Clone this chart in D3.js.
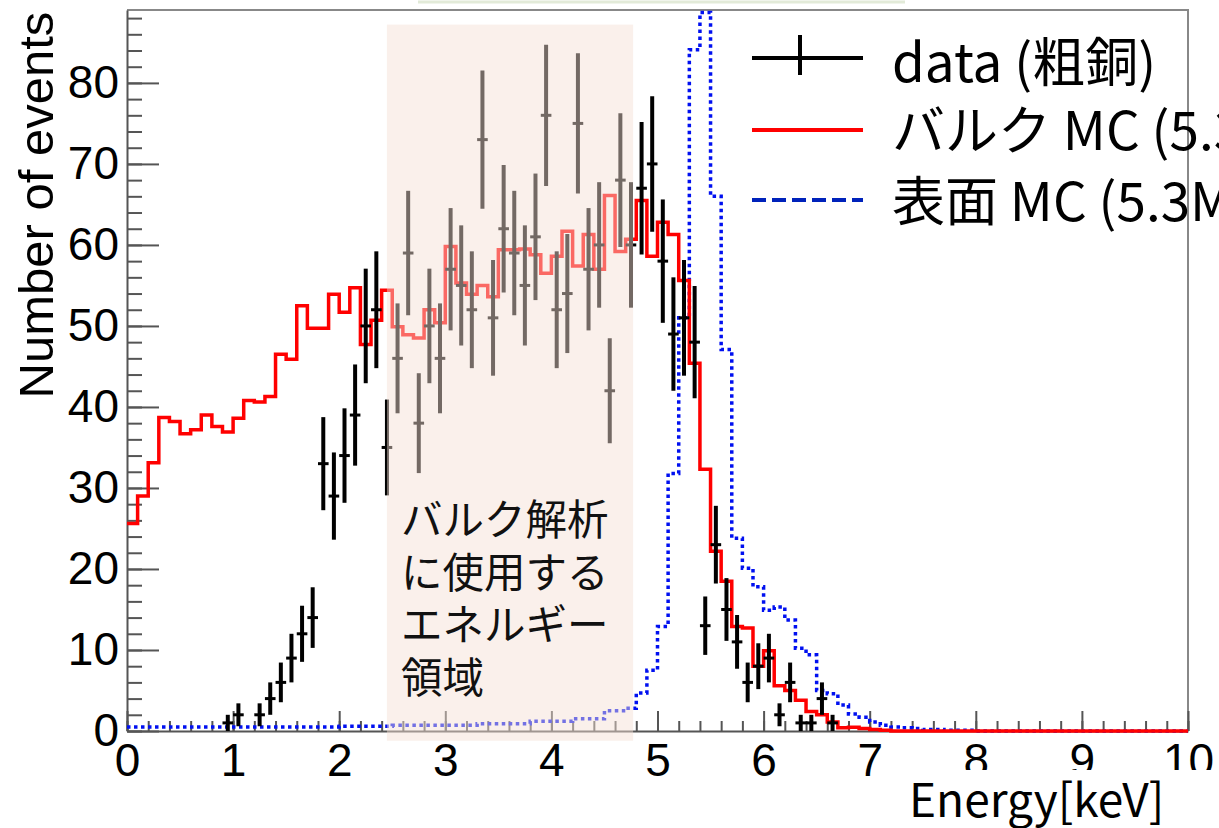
<!DOCTYPE html>
<html>
<head>
<meta charset="utf-8">
<script src="https://cdn.jsdelivr.net/npm/d3@7"></script>
<style>
  html, body { margin: 0; padding: 0; background: #fff; }
  svg { display: block; }
  .axis path, .axis line { stroke: #555; stroke-width: 2; }
  .axis text { font-family: "Liberation Sans", Arial, sans-serif; font-size: 46px; fill: #000; }
</style>
</head>
<body>
<script>
// bin contents, 0.1 keV bins from 0 to 10 keV
var bulkMC = [
    25.6, 29.0, 33.1, 38.7, 38.2, 36.7, 37.2, 39.0, 37.6, 36.9,
    38.6, 40.8, 40.6, 41.3, 46.5, 45.9, 52.5, 49.7, 49.7, 53.9,
    51.7, 54.7, 47.7, 50.7, 54.4, 49.9, 48.9, 48.5, 52.0, 50.4,
    59.8, 55.3, 53.9, 55.0, 53.6, 59.4, 59.4, 59.5, 58.8, 56.5,
    58.6, 61.7, 57.4, 61.3, 57.0, 66.1, 59.2, 60.7, 65.5, 58.6,
    62.8, 61.3, 55.6, 45.4, 32.3, 22.2, 18.5, 12.9, 12.7, 8.0,
    9.9, 5.6, 5.0, 3.8, 2.4, 2.0, 1.1, 0.4, 0.45, 0.3,
    0.2, 0.1, 0, 0, 0, 0, 0, 0, 0, 0,
    0, 0, 0, 0, 0, 0, 0, 0, 0, 0,
    0, 0, 0, 0, 0, 0, 0, 0, 0, 0
];
var surfaceMC = [
    0.5, 0.5, 0.5, 0.5, 0.5, 0.5, 0.5, 0.5, 0.5, 0.5,
    0.5, 0.5, 0.5, 0.5, 0.5, 0.5, 0.5, 0.5, 0.5, 0.5,
    0.6, 0.6, 0.6, 0.6, 0.6, 0.7, 0.7, 0.7, 0.7, 0.7,
    0.7, 0.7, 0.7, 0.9, 0.9, 0.9, 0.9, 0.9, 1.2, 1.2,
    1.2, 1.2, 1.5, 1.5, 1.5, 2.5, 2.5, 2.8, 4.7, 7.5,
    12.9, 31.8, 51.0, 84.1, 88.7, 66.0, 47.1, 23.8, 20.1, 17.8,
    14.9, 15.3, 13.7, 10.2, 9.4, 5.0, 4.6, 3.2, 2.1, 1.7,
    1.1, 0.7, 0.5, 0.4, 0.3, 0.2, 0.2, 0.1, 0.1, 0.1,
    0, 0, 0, 0, 0, 0, 0, 0, 0, 0,
    0, 0, 0, 0, 0, 0, 0, 0, 0, 0
];

// measured copper: bin centres (keV) and counts
var dataEnergy = [
    0.95, 1.05, 1.25, 1.35, 1.45, 1.55, 1.65, 1.75, 1.85, 1.95,
    2.05, 2.15, 2.25, 2.35, 2.45, 2.55, 2.65, 2.75, 2.85, 2.95,
    3.05, 3.15, 3.25, 3.35, 3.45, 3.55, 3.65, 3.75, 3.85, 3.95,
    4.05, 4.15, 4.25, 4.35, 4.45, 4.55, 4.65, 4.75, 4.85, 4.95,
    5.05, 5.15, 5.25, 5.35, 5.45, 5.55, 5.65, 5.75, 5.85, 5.95,
    6.05, 6.15, 6.25, 6.35, 6.45, 6.55, 6.65
];
var dataCounts = [
    1, 2, 2, 4, 6, 9, 12, 14, 33, 29,
    34, 39, 50, 52, 35, 46, 59, 38, 50, 46,
    57, 55, 52, 73, 51, 62, 59, 55, 61, 76,
    52, 54, 75, 57, 60, 42, 68, 60, 67, 70,
    58, 49, 51, 48, 13, 23, 15, 11, 6, 8,
    9, 2, 6, 1, 1, 4, 1
];

var binWidth = 0.1;
var bulkRegion = [2.45, 4.77];
var regionLines = ["バルク解析", "に使用する", "エネルギー", "領域"];
var legendLabels = ["data (粗銅)", "バルク MC (5.3MeV)", "表面 MC (5.3MeV)"];
var yLabel = "Number of events";
var xLabel = "Energy[keV]";

(function() {
    var width = 1219;
    var height = 828;

    var svg = d3.select('body').append('svg')
        .attr('width', width)
        .attr('height', height);

    var x = d3.scaleLinear().domain([0, 10]).range([127, 1188]);
    var y = d3.scaleLinear().domain([0, 89]).range([731, 10]);

    // faint slide artefact at the very top
    svg.append('line')
        .attr('x1', 418).attr('x2', 905)
        .attr('y1', 2).attr('y2', 2)
        .attr('stroke', '#e2ead8')
        .attr('stroke-width', 3);

    // frame (top and right)
    svg.append('path')
        .attr('d', 'M' + x(0) + ',' + y(89) + 'H' + x(10) + 'V' + y(0))
        .attr('fill', 'none')
        .attr('stroke', '#888')
        .attr('stroke-width', 2);

    // minor ticks
    svg.append('g')
        .attr('class', 'axis')
        .attr('transform', 'translate(0,' + y(0) + ')')
        .call(d3.axisBottom(x).tickValues(d3.range(0, 10.01, 0.2)).tickSize(-10).tickSizeOuter(0).tickFormat(''))
        .select('.domain').remove();
    svg.append('g')
        .attr('class', 'axis')
        .attr('transform', 'translate(' + x(0) + ',0)')
        .call(d3.axisLeft(y).tickValues(d3.range(0, 89, 2)).tickSize(-15).tickSizeOuter(0).tickFormat(''))
        .select('.domain').remove();

    // major ticks + labels
    svg.append('g')
        .attr('class', 'axis')
        .attr('transform', 'translate(0,' + y(0) + ')')
        .call(d3.axisBottom(x).ticks(10).tickSize(-20).tickSizeOuter(0).tickPadding(12));
    svg.append('g')
        .attr('class', 'axis')
        .attr('transform', 'translate(' + x(0) + ',0)')
        .call(d3.axisLeft(y).tickValues(d3.range(0, 81, 10)).tickSize(-32).tickSizeOuter(0).tickPadding(8));

    // histograms drawn as steps
    function stepPoints(values) {
        var pts = values.map(function(v, i) { return [i * binWidth, v]; });
        pts.push([values.length * binWidth, values[values.length - 1]]);
        return pts;
    }
    var step = d3.line()
        .x(function(d) { return x(d[0]); })
        .y(function(d) { return y(d[1]); })
        .curve(d3.curveStepAfter);

    svg.append('path')
        .attr('d', step(stepPoints(surfaceMC)))
        .attr('fill', 'none')
        .attr('stroke', '#0010f0')
        .attr('stroke-width', 3.5)
        .attr('stroke-dasharray', '3.5,3.5');

    svg.append('path')
        .attr('d', step(stepPoints(bulkMC)))
        .attr('fill', 'none')
        .attr('stroke', '#ff0000')
        .attr('stroke-width', 3.5);

    // data with sqrt(N) errors
    var pts = svg.append('g').selectAll('g')
        .data(dataEnergy.map(function(e, i) { return {e: e, n: dataCounts[i]}; }))
        .enter().append('g')
        .attr('stroke', '#000');
    pts.append('line')
        .attr('x1', function(d) { return x(d.e); })
        .attr('x2', function(d) { return x(d.e); })
        .attr('y1', function(d) { return y(d.n - Math.sqrt(d.n)); })
        .attr('y2', function(d) { return y(d.n + Math.sqrt(d.n)); })
        .attr('stroke-width', 4);
    pts.append('line')
        .attr('x1', function(d) { return x(d.e - binWidth / 2); })
        .attr('x2', function(d) { return x(d.e + binWidth / 2); })
        .attr('y1', function(d) { return y(d.n); })
        .attr('y2', function(d) { return y(d.n); })
        .attr('stroke-width', 3);

    // energy window used for the bulk analysis
    svg.append('rect')
        .attr('x', x(bulkRegion[0]))
        .attr('width', x(bulkRegion[1]) - x(bulkRegion[0]))
        .attr('y', y(87.2))
        .attr('height', y(-1.2) - y(87.2))
        .attr('fill', 'rgb(245,223,213)')
        .attr('fill-opacity', 0.47);

    svg.append('g').selectAll('text')
        .data(regionLines)
        .enter().append('text')
        .attr('x', 401)
        .attr('y', function(d, i) { return 535 + i * 52.5; })
        .attr('font-family', '"Noto Sans CJK JP", sans-serif')
        .attr('font-size', 41.5)
        .attr('fill', '#111')
        .text(function(d) { return d; });

    // legend
    var legendY = [58, 130, 200];
    var leg = svg.append('g');
    leg.append('line')
        .attr('x1', 752).attr('x2', 863)
        .attr('y1', legendY[0]).attr('y2', legendY[0])
        .attr('stroke', '#000').attr('stroke-width', 4);
    leg.append('line')
        .attr('x1', 800).attr('x2', 800)
        .attr('y1', legendY[0] - 23).attr('y2', legendY[0] + 17)
        .attr('stroke', '#000').attr('stroke-width', 4);
    leg.append('line')
        .attr('x1', 752).attr('x2', 863)
        .attr('y1', legendY[1]).attr('y2', legendY[1])
        .attr('stroke', '#ff0000').attr('stroke-width', 4);
    leg.append('line')
        .attr('x1', 752).attr('x2', 863)
        .attr('y1', legendY[2]).attr('y2', legendY[2])
        .attr('stroke', '#0022bb').attr('stroke-width', 4)
        .attr('stroke-dasharray', '14,6');
    leg.selectAll('text')
        .data(legendLabels)
        .enter().append('text')
        .attr('x', 892)
        .attr('y', function(d, i) { return [82, 150, 221][i]; })
        .attr('font-family', '"Noto Sans CJK JP", sans-serif')
        .attr('font-size', 53)
        .attr('fill', '#000')
        .text(function(d) { return d; });

    // axis titles
    svg.append('text')
        .attr('transform', 'translate(53,205) rotate(-90)')
        .attr('text-anchor', 'middle')
        .attr('font-family', '"Liberation Sans", Arial, sans-serif')
        .attr('font-size', 49)
        .attr('fill', '#000')
        .text(yLabel);

    svg.append('rect')
        .attr('x', 885).attr('y', 770)
        .attr('width', width - 885).attr('height', height - 770)
        .attr('fill', '#fff');
    svg.append('text')
        .attr('x', 909)
        .attr('y', 817)
        .attr('font-family', '"Noto Sans CJK JP", sans-serif')
        .attr('font-size', 46)
        .attr('fill', '#000')
        .text(xLabel);
}());
</script>
</body>
</html>
